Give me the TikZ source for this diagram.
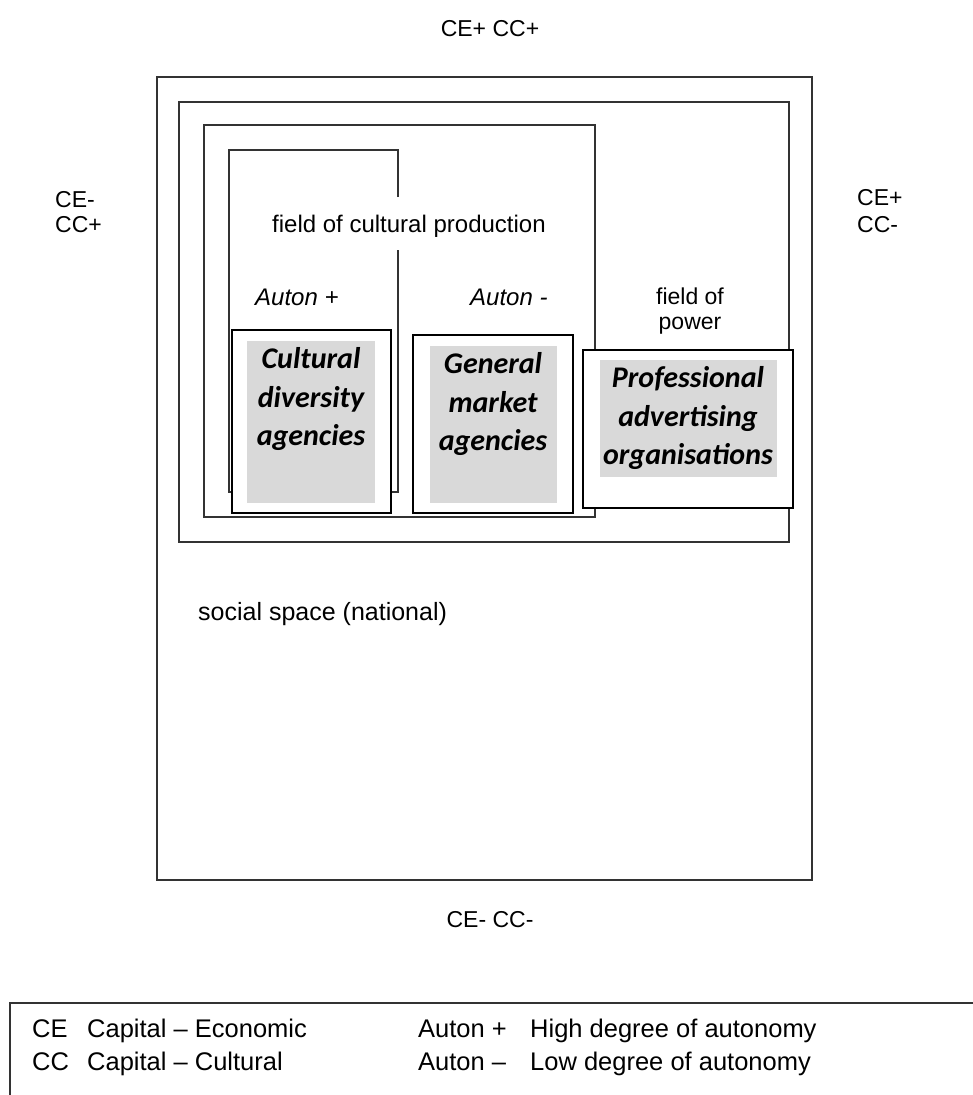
\documentclass[tikz,border=0pt]{standalone}
\usepackage{fontspec}
\setmainfont{Liberation Sans}
\newfontfamily\calibri{Carlito}
\usepackage{tikz}
\usetikzlibrary{positioning}

\begin{document}
\begin{tikzpicture}[x=1pt,y=-1pt,
                    every node/.style={inner sep=0pt,font=\fontsize{23}{25}\selectfont},
                    frame/.style={draw=black!80,line width=1.7pt},
                    agbox/.style={draw=black,line width=1.7pt,fill=white},
                    agfill/.style={fill=black!15},
                    agtext/.style={align=center,font=\calibri\bfseries\itshape\fontsize{30}{38.5}\selectfont},
                    legend/.style={anchor=base west,font=\fontsize{25.5}{28}\selectfont}]
   \path[use as bounding box] (0,0) rectangle (973,1095);
   \draw[frame] (157,77) rectangle (812,880);
   \draw[frame] (179,102) rectangle (789,542);
   \draw[frame] (204,125) rectangle (595,517);
   \draw[frame] (398,197) -- (398,150) -- (229,150) -- (229,492) -- (398,492) -- (398,250);
   \node[anchor=base] (top) at (490,36) {CE+ CC+};
   \node[anchor=base west] (ceL) at (55,207) {CE-};
   \node[anchor=base west] (ccL) at (55,232) {CC+};
   \node[anchor=base west] (ceR) at (857,205) {CE+};
   \node[anchor=base west] (ccR) at (857,232) {CC-};
   \node[anchor=base] (bot) at (490,927) {CE- CC-};
   \node[anchor=base west,font=\fontsize{25}{28}\selectfont] (social) at (198,620) {social space (national)};
   \node[anchor=base west,font=\fontsize{24}{26}\selectfont] (fcp) at (272,232) {field of cultural production};
   \node[anchor=base west,font=\fontsize{24}{26}\selectfont\itshape] (autp) at (255,305) {Auton +};
   \node[anchor=base west,font=\fontsize{24}{26}\selectfont\itshape] (autm) at (470,305) {Auton -};
   \node[align=center] (power) at (690,311) {field of\\power};
   \draw[agbox] (232,330) rectangle (391,513);
   \fill[agfill] (247,341) rectangle (375,503);
   \node[agtext] (cult) at (311,399) {Cultural\\diversity\\agencies};
   \draw[agbox] (413,335) rectangle (573,513);
   \fill[agfill] (430,346) rectangle (557,503);
   \node[agtext] (gen) at (493,404) {General\\market\\agencies};
   \draw[agbox] (583,350) rectangle (793,508);
   \fill[agfill] (600,360) rectangle (777,477);
   \node[agtext] (prof) at (688,418) {Professional\\advertising\\organisations};
   \draw[draw=black!80,line width=1.7pt] (973,1003) -- (10,1003) -- (10,1095);
   \node[legend] (ce) at (32,1037) {CE};
   \node[legend] (ceT) at (87,1037) {Capital -- Economic};
   \node[legend] (cc) at (32,1070) {CC};
   \node[legend] (ccT) at (87,1070) {Capital -- Cultural};
   \node[legend] (ap) at (418,1037) {Auton +};
   \node[legend] (apT) at (530,1037) {High degree of autonomy};
   \node[legend] (am) at (418,1070) {Auton --};
   \node[legend] (amT) at (530,1070) {Low degree of autonomy};
\end{tikzpicture}
\end{document}
